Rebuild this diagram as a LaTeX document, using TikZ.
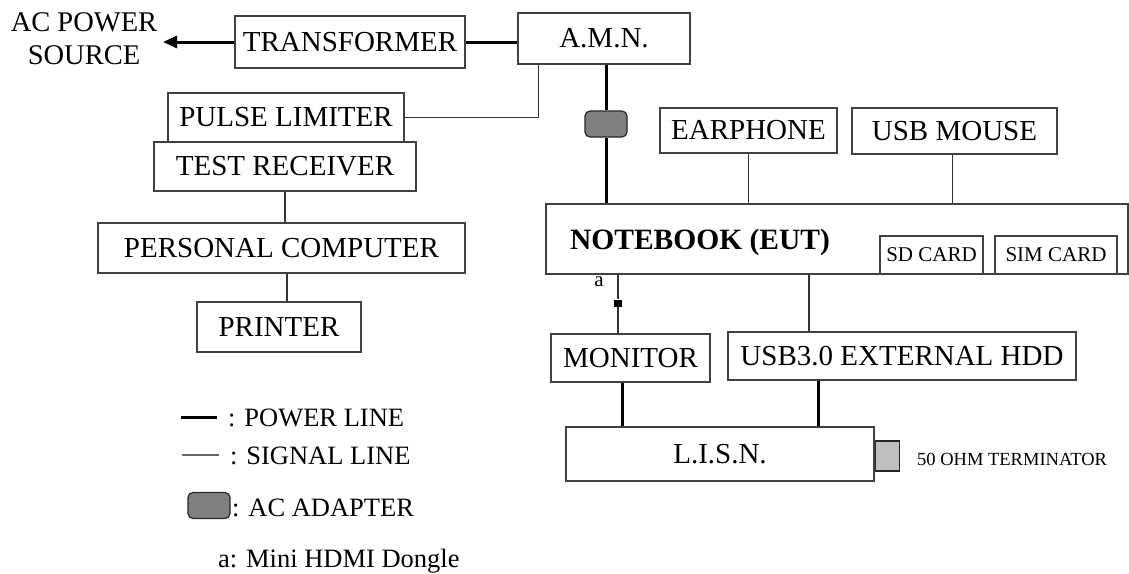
\documentclass[tikz,border=0pt]{standalone}
\usepackage{fontspec}
\setmainfont{Liberation Serif}
\usetikzlibrary{arrows.meta,calc}
\begin{document}
\begin{tikzpicture}[x=1pt,y=-1pt,
  box/.style={draw=black!75,line width=1.2pt,inner sep=0pt,rectangle,font=\fontsize{29}{31}\selectfont},
  smallbox/.style={box,font=\fontsize{21}{23}\selectfont},
  signal/.style={draw=black!80,line width=1.1pt},
  power/.style={draw=black,line width=3pt},
  legtext/.style={inner sep=0pt,anchor=west,font=\fontsize{26.5}{28}\selectfont},
  adapterbox/.style={draw=black!85,line width=1.2pt,fill=black!50,rounded corners=5pt,inner sep=0pt,minimum width=42pt,minimum height=26pt}
]
\useasboundingbox[fill=white] (0,0) rectangle (1129,573);

% nodes
\node[inner sep=0pt,align=center,font=\fontsize{28.5}{33}\selectfont] (acsrc) at (84,39) {AC POWER\\SOURCE};
\coordinate (arrowtip) at (163,42);
\node[box,minimum width=230pt,minimum height=52pt] (trans) at (350,42) {TRANSFORMER};
\node[box,minimum width=172pt,minimum height=51pt] (amn) at (604,38.5) {A.M.N.};
\node[box,minimum width=236pt,minimum height=49pt] (pulse) at (286,117.5) {PULSE LIMITER};
\node[box,minimum width=262pt,minimum height=49pt] (testrx) at (285,166.5) {TEST RECEIVER};
\node[box,minimum width=367pt,minimum height=50pt] (pc) at (281.5,248) {PERSONAL COMPUTER};
\node[box,minimum width=164pt,minimum height=50pt] (printer) at (279,327) {PRINTER};

\node[adapterbox] (adapter) at (606,124) {};
\node[box,minimum width=177pt,minimum height=45pt] (earphone) at (748.5,130.5) {EARPHONE};
\node[box,minimum width=205pt,minimum height=46pt] (mouse) at (954.5,131) {USB MOUSE};
\node[box,minimum width=582pt,minimum height=70pt] (notebook) at (837,239) {};
\node[inner sep=0pt,font=\fontsize{29.5}{31}\selectfont\bfseries] (nbtext) at (700,242) {NOTEBOOK (EUT)};
\node[smallbox,minimum width=103pt,minimum height=38pt] (sdcard) at (931.5,255) {SD CARD};
\node[smallbox,minimum width=122pt,minimum height=38pt] (simcard) at (1056,255) {SIM CARD};

\node[box,minimum width=159pt,minimum height=48pt] (monitor) at (630.5,358) {MONITOR};
\node[box,minimum width=348pt,minimum height=48pt] (hdd) at (902,356) {USB3.0 EXTERNAL HDD};
\node[box,minimum width=308pt,minimum height=54pt] (lisn) at (720,454) {L.I.S.N.};
\node[draw=black!85,line width=1.2pt,fill=black!25,inner sep=0pt,minimum width=24pt,minimum height=30pt,anchor=west] (term) at (lisn.east |- 0,456) {};
\node[inner sep=0pt,anchor=west,font=\fontsize{18.5}{20}\selectfont] (termtext) at (917,459) {50 OHM TERMINATOR};

\node[fill=black,inner sep=0pt,minimum width=8pt,minimum height=7pt] (dongle) at (618,303) {};
\node[inner sep=0pt,font=\fontsize{21}{23}\selectfont] (alabel) at (599,282) {a};

% connectors
\draw[power,-{Triangle[length=14pt,width=12pt]}] (trans.west) -- (arrowtip);
\draw[power] (trans.east) -- (trans.east -| amn.west);
\draw[signal] (pulse.east) -| ([xshift=21pt]amn.south west);
\draw[signal] (testrx.south) -- (testrx.south |- pc.north);
\draw[signal] ([xshift=8pt]printer.north) -- ([xshift=8pt]printer.north |- pc.south);
\draw[power] (adapter.north |- amn.south) -- (adapter.north);
\draw[power] (adapter.south) -- (adapter.south |- notebook.north);
\draw[signal] (earphone.south) -- (earphone.south |- notebook.north);
\draw[signal] ([xshift=-2pt]mouse.south) -- ([xshift=-2pt]mouse.south |- notebook.north);
\draw[signal] (dongle.north |- notebook.south) -- (dongle.north);
\draw[signal] (dongle.south) -- (dongle.south |- monitor.north);
\draw[signal] ([xshift=-93pt]hdd.north) -- ([xshift=-93pt]hdd.north |- notebook.south);
\draw[power] ([xshift=-8.5pt]monitor.south) -- ([xshift=-8.5pt]monitor.south |- lisn.north);
\draw[power] ([xshift=-84pt]hdd.south) -- ([xshift=-84pt]hdd.south |- lisn.north);

% legend
\draw[power] (181,417) -- (217,417);
\node[legtext] (legpower) at (228,418) {: POWER LINE};
\draw[signal,draw=black!60] (182,455) -- (219,455);
\node[legtext] (legsignal) at (230,456) {: SIGNAL LINE};
\node[adapterbox] (legadapter) at (209,505.5) {};
\node[legtext] (legadtext) at (232,508) {: AC ADAPTER};
\node[legtext] (legdongle) at (218,561) {a: Mini HDMI Dongle};
\end{tikzpicture}
\end{document}
